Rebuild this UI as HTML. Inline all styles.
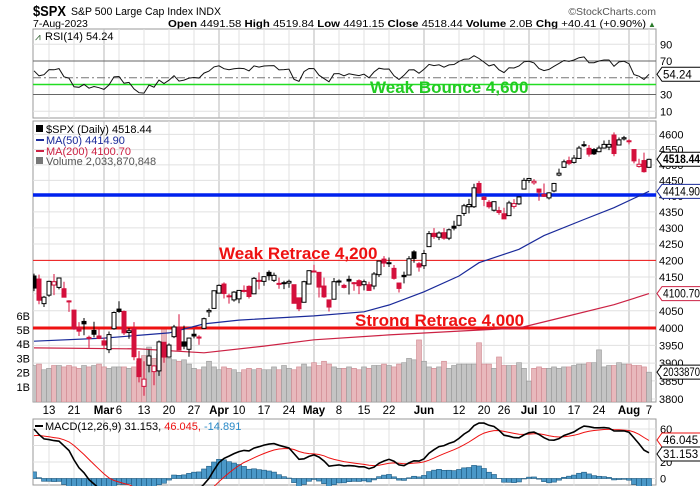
<!DOCTYPE html>
<html><head><meta charset="utf-8"><style>
html,body{margin:0;padding:0;background:#fff;overflow:hidden;width:700px;height:486px;}
svg{display:block;font-family:"Liberation Sans",sans-serif;}
</style></head><body>
<svg id="c" width="700" height="486" viewBox="0 0 700 486" xmlns="http://www.w3.org/2000/svg">
<rect width="700" height="486" fill="#fff"/>
<g>
<text x="33" y="16" font-size="15" font-weight="bold" textLength="33" lengthAdjust="spacingAndGlyphs">$SPX</text>
<text x="71" y="15" font-size="11" textLength="150" lengthAdjust="spacingAndGlyphs">S&amp;P 500 Large Cap Index  INDX</text>
<text x="656" y="15" font-size="10.5" fill="#555" text-anchor="end">©StockCharts.com</text>
<text x="33" y="27" font-size="10.5">7-Aug-2023</text>
<text x="168" y="27" font-size="10.5" textLength="478" lengthAdjust="spacingAndGlyphs"><tspan font-weight="bold">Open</tspan> 4491.58 <tspan font-weight="bold">High</tspan> 4519.84 <tspan font-weight="bold">Low</tspan> 4491.15 <tspan font-weight="bold">Close</tspan> 4518.44 <tspan font-weight="bold">Volume</tspan> 2.0B <tspan font-weight="bold">Chg</tspan> +40.41 (+0.90%)</text>
<text x="648" y="27" font-size="8" fill="#2a7a2a">▲</text>
</g>
<g id="rsi"></g>
<g id="main"></g>
<g id="xax"></g>
<g id="macd"></g>
</svg>
<script>
const closes=[4117,4081,4090,4137,4136,4147,4090,4079,3997,3991,4012,3970,3982,3970,
3951,3981,4045,4048,3986,3992,3918,3862,3855,3920,3892,3960,3917,3951,4003,3937,3948,3971,3977,3971,4027,4051,4109,
4125,4101,4091,4105,4110,4108,4092,4146,4138,4151,4154,4155,4130,4133,4137,4072,4056,4136,4169,
4168,4120,4091,4061,4136,4138,4119,4138,4131,4124,4136,4110,4159,4198,4192,4193,4146,4116,4151,4205,4206,4180,
4221,4282,4273,4284,4268,4294,4299,4338,4369,4373,4426,4410,4389,4366,4382,4348,4328,4378,4376,4397,4450,
4456,4447,4412,4399,4410,4440,4473,4510,4505,4522,4555,4566,4535,4536,4555,4567,4567,4537,4582,4589,
4577,4513,4502,4478,4518];
const opens=[4153,4144,4071,4096,4126,4119,4115,4078,4052,4001,4019,3973,3993,3977,
3963,3938,3998,4055,4048,3987,3998,3912,3835,3894,3876,3878,3959,3917,3975,4002,3960,3939,3982,3974,3999,4047,4057,
4102,4129,4094,4082,4085,4110,4122,4100,4140,4137,4164,4140,4131,4132,4132,4127,4088,4075,4129,
4166,4164,4123,4082,4084,4136,4125,4143,4133,4139,4127,4127,4123,4157,4204,4191,4176,4132,4155,4156,4226,4190,
4184,4242,4283,4271,4285,4268,4305,4308,4345,4366,4366,4440,4396,4380,4355,4354,4344,4338,4367,4375,4422,
4450,4442,4422,4405,4394,4416,4467,4492,4514,4508,4521,4563,4554,4550,4543,4555,4558,4598,4565,4585,
4579,4550,4495,4514,4492];
const highs=[4160,4157,4094,4139,4159,4148,4136,4081,4052,4017,4029,3978,4018,3998,
3972,3990,4048,4078,4051,4000,4017,3934,3905,3938,3894,3964,3959,3956,4009,4040,4007,3972,3996,3979,4030,4057,4110,
4128,4134,4100,4108,4110,4125,4125,4150,4164,4152,4170,4163,4148,4139,4142,4127,4089,4139,4170,
4187,4164,4148,4083,4147,4143,4130,4154,4135,4143,4142,4136,4165,4199,4213,4209,4186,4133,4166,4213,4231,4195,
4232,4290,4299,4289,4299,4298,4322,4340,4375,4391,4439,4448,4400,4387,4382,4366,4363,4385,4390,4399,4458,
4456,4454,4423,4440,4412,4442,4488,4517,4527,4532,4562,4578,4565,4555,4563,4580,4582,4607,4590,4595,
4584,4550,4520,4540,4520];
const lows=[4108,4069,4061,4091,4096,4113,4089,4047,3995,3977,3979,3943,3973,3968,
3940,3928,3995,4044,3980,3969,3908,3846,3809,3874,3838,3864,3901,3917,3971,3936,3939,3918,3970,3952,3999,4032,4057,
4101,4086,4071,4077,4072,4104,4086,4099,4113,4124,4140,4135,4115,4114,4118,4072,4049,4075,4128,
4164,4089,4088,4048,4084,4124,4116,4098,4109,4099,4110,4109,4113,4150,4180,4180,4142,4104,4131,4155,4193,4166,
4174,4241,4266,4262,4263,4262,4292,4305,4337,4345,4362,4407,4368,4360,4351,4341,4328,4337,4360,4372,4422,
4442,4436,4385,4397,4389,4412,4463,4491,4499,4504,4519,4558,4527,4532,4541,4553,4548,4528,4564,4580,
4567,4505,4491,4475,4491];
const volumes=[2.5,2.6,2.2,2.3,2.5,2.5,2.4,2.5,2.4,2.3,2.5,2.4,2.5,2.6,
2.4,2.3,2.4,2.4,2.4,2.3,2.4,2.8,3.2,3.8,3.0,3.3,5.2,3.0,2.9,2.8,2.9,2.6,2.3,2.2,2.4,2.8,2.4,
2.2,2.4,2.3,2.2,2.0,2.2,2.3,2.2,2.3,2.2,2.2,2.4,2.2,2.5,2.3,2.2,2.4,2.6,2.4,
2.7,2.5,2.8,2.6,2.4,2.3,2.3,2.4,2.3,2.2,2.4,2.3,2.5,2.5,2.6,2.5,2.4,2.6,2.7,3.0,2.9,4.3,
2.8,2.4,2.3,2.4,2.8,2.3,2.5,2.6,2.6,2.6,2.6,4.1,2.6,2.6,2.3,3.1,2.5,2.5,2.5,2.7,2.3,
1.4,2.3,2.4,2.3,2.3,2.4,2.3,2.4,2.4,2.5,2.6,2.6,2.7,2.7,3.6,2.4,2.5,2.5,2.7,2.6,
2.6,2.5,2.5,2.4,2.03];
const ma50Idx=[0,14,27,34,41,56,66,71,78,85,89,97,102,110,116,123];
const ma50Val=[3962,3971,3986,4012,4023,4035,4047,4067,4106,4153,4193,4234,4276,4326,4363,4414.9];
const ma200Idx=[0,21,34,46,56,71,85,97,106,116,123];
const ma200Val=[3943,3940,3929,3948,3966,3980,3991,4000,4032,4068,4100.7];
const tickIdx=[3,8,14,17,22,27,32,37,41,46,51,56,61,66,71,78,85,90,94,99,103,108,113,119,123];
const tickLabels=["13","21","Mar","6","13","20","27","Apr","10","17","24","May","8","15","22","Jun","12","20","26","Jul","10","17","24","Aug","7"];
const monthIdx=[14,37,56,78,99,119];
const priceTicks=[3800,3850,3900,3950,4000,4050,4100,4150,4200,4250,4300,4350,4400,4450,4500,4550,4600];
const volTicks=[1,2,3,4,5,6];
const rsiTicks=[90,70,50,30,10];
const macdTicks=[60,40,20,0];

const NS="http://www.w3.org/2000/svg";
const L=33,R=656;
const X=i=>34+5*i;
const PY=p=>328-1385*Math.log(p/4000);
const VY=v=>401-v*14.2;
const RY=v=>61+(70-v)*0.8375;
const MY=v=>478.5-v*0.825;
function mk(parent,tag,attrs,text){const e=document.createElementNS(NS,tag);for(const k in attrs)e.setAttribute(k,attrs[k]);if(text!==undefined)e.textContent=text;parent.appendChild(e);return e;}
function vgrid(g,y1,y2){
  for(const i of tickIdx){const l=mk(g,'line',{x1:X(i),x2:X(i),y1:y1,y2:y2,stroke:monthIdx.includes(i)?'#b8b8b8':'#e0e0e0','stroke-width':1});
  
  }
}
function clip(id,y1,y2){const d=document.getElementById('c');let defs=d.querySelector('defs');if(!defs){defs=mk(d,'defs',{});d.insertBefore(defs,d.firstChild);}const cp=mk(defs,'clipPath',{id:id});mk(cp,'rect',{x:L,y:y1,width:R-L,height:y2-y1});}
function tag(g,y,txt,color,bold,name){
  const w=41;
  const p=mk(g,'path',{d:`M${R+1} ${y} l5 -7 h${w} v14 h-${w} z`,fill:'#fff',stroke:color,'stroke-width':1});
  
  
  const a={x:R+7,y:y+4,'font-size':bold?12:11.5,'font-weight':bold?'bold':'normal',fill:'#000'};
  if(txt.length>=7){a.textLength=37;a.lengthAdjust='spacingAndGlyphs';}
  const t=mk(g,'text',a,txt);
  
  
}

/* ---------- RSI ---------- */
const rsi=[];{let ag=14,al=10;rsi.push(100-100/(1+ag/al));
for(let i=1;i<closes.length;i++){const d=closes[i]-closes[i-1];ag=(ag*13+Math.max(d,0))/14;al=(al*13+Math.max(-d,0))/14;rsi.push(100-100/(1+ag/al));}}
{
const g=document.getElementById('rsi');
mk(g,'rect',{x:L,y:29,width:R-L,height:89,fill:'#fff',stroke:'#999'});
vgrid(g,29,118);
for(const v of rsiTicks){
  const ln=mk(g,'line',{x1:L,x2:R,y1:RY(v),y2:RY(v),stroke:(v===70||v===30)?'#666':(v===50?'#777':'#e0e0e0'),'stroke-width':1,'stroke-dasharray':v===50?'8,3,2,3':'none'});
  
  
  if(v!==50){const t=mk(g,'text',{x:660,y:RY(v)+4,'font-size':11},String(v));
  
  }
}
const gl=mk(g,'line',{x1:L,x2:R,y1:84.5,y2:84.5,stroke:'#22dd22','stroke-width':1.5});


const gt=mk(g,'text',{x:370,y:93,'font-size':17,'font-weight':'bold',fill:'#22cc22'},'Weak Bounce 4,600');


const rl=mk(g,'polyline',{points:rsi.map((v,i)=>X(i)+','+RY(v).toFixed(1)).join(' '),fill:'none',stroke:'#111','stroke-width':1});


const rt=mk(g,'text',{x:45,y:40,'font-size':11},'RSI(14) 54.24');


const ri=mk(g,'text',{x:35,y:40,'font-size':10,fill:'#2a5a2a'},'⩘');


tag(g,RY(rsi[rsi.length-1]),'54.24','#000',false,'rsi');
}

/* ---------- Main price panel ---------- */
{
const g=document.getElementById('main');
clip('cm',121,402);
mk(g,'rect',{x:L,y:121,width:R-L,height:281,fill:'#fff',stroke:'#999'});
vgrid(g,121,402);
for(const p of priceTicks){
  const ln=mk(g,'line',{x1:L,x2:R,y1:PY(p),y2:PY(p),stroke:'#e0e0e0'});
  
  
  const t=mk(g,'text',{x:659,y:PY(p)+4,'font-size':11},String(p));
  
  
}
for(const v of volTicks){
  const t=mk(g,'text',{x:30,y:VY(v)+4,'font-size':11,'text-anchor':'end'},v+'B');
  
  
}
const cg=mk(g,'g',{'clip-path':'url(#cm)'});
volumes.forEach((v,i)=>{
  const down=i>0&&closes[i]<closes[i-1];
  const b=mk(cg,'rect',{x:X(i)-2.5,y:VY(v),width:5,height:401-VY(v)+1,fill:down?'#e8b8bc':'#c4c4c4',stroke:down?'#d08890':'#999','stroke-width':0.6});
  
  
});
const hb=mk(cg,'line',{x1:L,x2:R,y1:195,y2:195,stroke:'#0022ee','stroke-width':3.5});


const hr1=mk(cg,'line',{x1:L,x2:R,y1:PY(4200),y2:PY(4200),stroke:'#ee1111','stroke-width':1});


const hr2=mk(cg,'line',{x1:L,x2:R,y1:PY(4000),y2:PY(4000),stroke:'#ee1111','stroke-width':3});


const m50=mk(cg,'polyline',{points:ma50Idx.map((i,k)=>X(i)+','+PY(ma50Val[k]).toFixed(1)).join(' '),fill:'none',stroke:'#1a2a9a','stroke-width':1.2});


const m200=mk(cg,'polyline',{points:ma200Idx.map((i,k)=>X(i)+','+PY(ma200Val[k]).toFixed(1)).join(' '),fill:'none',stroke:'#cc2244','stroke-width':1.2});


closes.forEach((c,i)=>{
  const o=opens[i];const down=i>0&&c<closes[i-1];const col=down?'#d4103c':'#000';
  const w=mk(cg,'line',{x1:X(i),x2:X(i),y1:PY(highs[i]),y2:PY(lows[i]),stroke:col,'stroke-width':1});
  
  
  const top=PY(Math.max(o,c)),bot=PY(Math.min(o,c));
  const b=mk(cg,'rect',{x:X(i)-2,y:top,width:4,height:Math.max(bot-top,1),fill:c>=o?'#fff':col,stroke:col,'stroke-width':1});
  
  
});
const wt=mk(g,'text',{x:219,y:259,'font-size':17,'font-weight':'bold',fill:'#ee1111'},'Weak Retrace 4,200');


const st=mk(g,'text',{x:355,y:326,'font-size':17,'font-weight':'bold',fill:'#ee1111'},'Strong Retrace 4,000');


const lg=[['$SPX (Daily) 4518.44','#000',133],['MA(50) 4414.90','#1a2a9a',144],['MA(200) 4100.70','#cc2244',155],['Volume 2,033,870,848','#555',165]];
lg.forEach(([t,c,y],k)=>{
  if(k===1||k===2){const d=mk(g,'line',{x1:36,x2:44,y1:y-4,y2:y-4,stroke:c,'stroke-width':2});
  
  }
  else{const d=mk(g,'rect',{x:36,y:y-8,width:7,height:7,fill:c==='#000'?'#000':'#777'});
  
  }
  const e=mk(g,'text',{x:46,y:y,'font-size':11,fill:c},t);
  
  
});
tag(g,PY(4414.9),'4414.90','#1a2a9a',false,'ma50');
tag(g,PY(4100.7),'4100.70','#cc2244',false,'ma200');
tag(g,VY(2.03),'2033870','#000',false,'volume');
tag(g,PY(4518.44),'4518.44','#000',true,'price');
}

/* ---------- X axis ---------- */
{
const g=document.getElementById('xax');
tickIdx.forEach((i,k)=>{
  const t=mk(g,'text',{x:X(i),y:414,'font-size':11.5,'text-anchor':'middle','font-weight':monthIdx.includes(i)?'bold':'normal'},tickLabels[k]);
  
  
});
}

/* ---------- MACD ---------- */
const macd=[],sig=[],hist=[];{let e12=4110,e26=4050,s=52;
closes.forEach((c,i)=>{if(i>0){e12+= (c-e12)*2/13;e26+=(c-e26)*2/27;}const m=e12-e26;if(i>0)s+=(m-s)*0.2;macd.push(m);sig.push(s);hist.push(m-s);});}
{
const g=document.getElementById('macd');
clip('cmacd',419,486);
mk(g,'rect',{x:L,y:419,width:R-L,height:66,fill:'#fff',stroke:'#999'});
vgrid(g,419,486);
for(const v of macdTicks){
  const ln=mk(g,'line',{x1:L,x2:R,y1:MY(v),y2:MY(v),stroke:'#e0e0e0'});
  
  
  if(v!==40){const t=mk(g,'text',{x:660,y:MY(v)+4,'font-size':11},String(v));
  
  }
}
const cg=mk(g,'g',{'clip-path':'url(#cmacd)'});
hist.forEach((h,i)=>{
  const y0=MY(0),y1=MY(h);
  const b=mk(cg,'rect',{x:X(i)-2.5,y:Math.min(y0,y1),width:5,height:Math.abs(y1-y0),fill:'#4a98c8',stroke:'#1e5a80','stroke-width':0.6});
  
  
});
const sl=mk(cg,'polyline',{points:sig.map((v,i)=>X(i)+','+MY(v).toFixed(1)).join(' '),fill:'none',stroke:'#ee1111','stroke-width':1});


const ml=mk(cg,'polyline',{points:macd.map((v,i)=>X(i)+','+MY(v).toFixed(1)).join(' '),fill:'none',stroke:'#000','stroke-width':1.6});


const lt=mk(g,'text',{x:45,y:430,'font-size':11},'');


mk(lt,'tspan',{},'MACD(12,26,9) 31.153, ');mk(lt,'tspan',{fill:'#ee1111'},'46.045, ');mk(lt,'tspan',{fill:'#2a8ac8'},'-14.891');
const ls=mk(g,'line',{x1:35,x2:43,y1:426,y2:426,stroke:'#000','stroke-width':2});


tag(g,440,'46.045','#ee1111',false,'macd-signal');
tag(g,454,'31.153','#000',false,'macd');
}
</script>
</body></html>
